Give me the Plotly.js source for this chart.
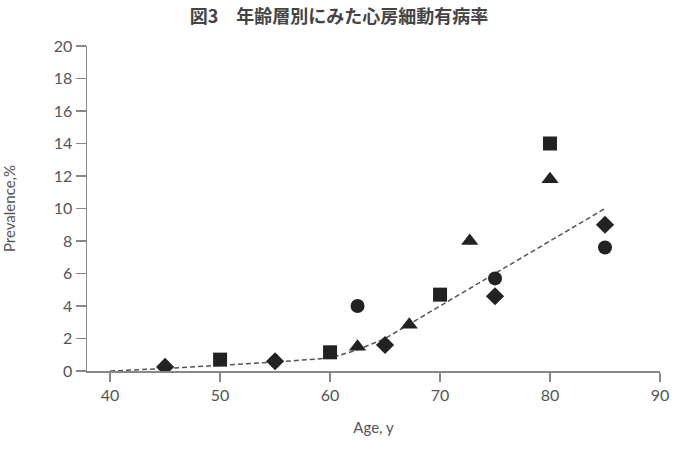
<!DOCTYPE html>
<html><head><meta charset="utf-8">
<script src="https://cdn.plot.ly/plotly-3.0.1.min.js"></script>
<style>html,body{margin:0;padding:0;background:#fff;}#chart{width:678px;height:452px;}</style>
</head><body><div id="chart"></div>
<script>
const diamondX = [45, 55, 65, 75, 85];
const diamondY = [0.25, 0.6, 1.6, 4.6, 9.0];
const squareX = [50, 60, 70, 80];
const squareY = [0.7, 1.15, 4.7, 14.0];
const triangleX = [62.5, 67.2, 72.7, 80];
const triangleY = [1.5, 2.85, 8.0, 11.8];
const circleX = [62.5, 75, 85];
const circleY = [4.0, 5.7, 7.6];
const fitX = [40, 45, 50, 55, 60, 62.5, 65, 70, 75, 80, 85];
const fitY = [0, 0.15, 0.35, 0.55, 0.8, 1.3, 2.0, 4.0, 6.0, 8.0, 10.0];

const mk = (sym, size) => ({symbol: sym, size: size, color: '#222'});
const data = [
  {x: fitX, y: fitY, mode: 'lines', line: {color: '#555', width: 1.5, dash: '5px,3px'}, hoverinfo: 'skip'},
  {x: diamondX, y: diamondY, mode: 'markers', marker: mk('diamond', 14)},
  {x: squareX, y: squareY, mode: 'markers', marker: mk('square', 14)},
  {x: triangleX, y: triangleY, mode: 'markers', marker: mk('triangle-up', 15)},
  {x: circleX, y: circleY, mode: 'markers', marker: mk('circle', 14)}
];
const tickFont = {family: 'Lato, "DejaVu Sans", sans-serif', size: 16, color: '#555'};
const titleFont = {family: 'Lato, "DejaVu Sans", sans-serif', size: 15, color: '#555'};
const layout = {
  width: 678, height: 452,
  margin: {l: 87, r: 18, t: 46, b: 81},
  paper_bgcolor: '#fff', plot_bgcolor: '#fff',
  showlegend: false,
  title: {text: '図3　年齢層別にみた心房細動有病率', x: 0.5, xanchor: 'center', y: 0.962, yanchor: 'middle',
          font: {family: '"Noto Sans CJK JP", sans-serif', size: 18, color: '#444', weight: 'bold'}},
  xaxis: {range: [37.9, 90], tickvals: [40, 50, 60, 70, 80, 90], ticks: 'outside', ticklen: 9, tickcolor: '#888', tickwidth: 1.5,
          showline: true, linecolor: '#888', linewidth: 1.5, showgrid: false, zeroline: false,
          tickfont: tickFont, title: {text: 'Age, y', font: titleFont, standoff: 20}},
  yaxis: {range: [0, 20], tickvals: [0, 2, 4, 6, 8, 10, 12, 14, 16, 18, 20], ticks: 'outside', ticklen: 10, tickcolor: '#888', tickwidth: 1.5,
          showline: true, linecolor: '#888', linewidth: 1.5, showgrid: false, zeroline: false,
          tickfont: tickFont, title: {text: 'Prevalence,%', font: titleFont, standoff: 34}}
};
Plotly.newPlot('chart', data, layout, {displayModeBar: false, staticPlot: true});
</script></body></html>
